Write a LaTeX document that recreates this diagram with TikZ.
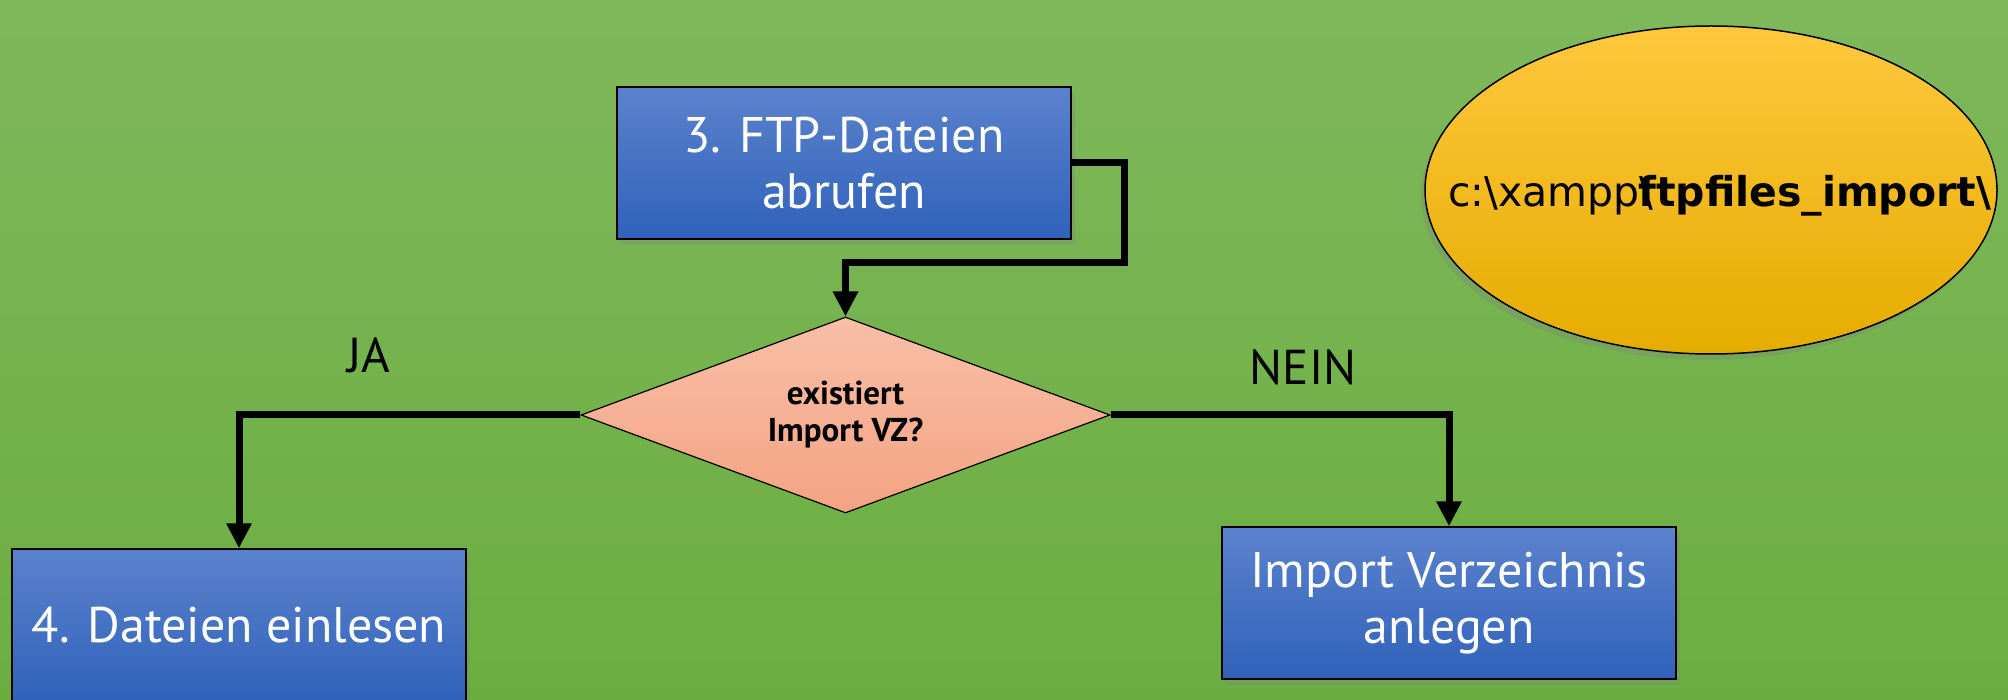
\documentclass[tikz,border=0pt]{standalone}
\usepackage{fontspec}
\setmainfont{PT Sans}
\newfontfamily\pathfont{DejaVu Sans}
\usetikzlibrary{shapes.geometric,arrows.meta,shadows}
\definecolor{bgtop}{HTML}{7FB85B}
\definecolor{bgbot}{HTML}{6BAE40}
\definecolor{boxtop}{HTML}{5B82CD}
\definecolor{boxbot}{HTML}{3062BA}
\definecolor{diatop}{HTML}{F8BFA7}
\definecolor{diabot}{HTML}{F4A382}
\definecolor{elltop}{HTML}{FFC83D}
\definecolor{ellbot}{HTML}{E5AC00}
\tikzset{
  stepbox/.style={rectangle, draw=black, line width=1.5pt, top color=boxtop, bottom color=boxbot,
    minimum width=454pt, minimum height=152pt, inner sep=0pt, align=center, text=white,
    font=\fontsize{50}{56}\selectfont,
    drop shadow={shadow xshift=4pt, shadow yshift=-6pt, opacity=0.3}},
  decision/.style={diamond, draw=black, line width=1.2pt, top color=diatop, bottom color=diabot,
    minimum width=529pt, minimum height=196pt, aspect=2.7, inner sep=0pt, align=center,
    font=\fontsize{33}{37}\selectfont\bfseries},
  conn/.style={draw=black, line width=7pt, line join=miter,
    -{Triangle[width=24pt,length=25pt]}},
  lbl/.style={font=\fontsize{49}{56}\selectfont, text=black, inner sep=0pt}
}
\begin{document}
\begin{tikzpicture}[x=1pt,y=-1pt]
\useasboundingbox (0,0) rectangle (2008,700);
\shade[top color=bgtop, bottom color=bgbot] (0,0) rectangle (2008,700);
% ellipse
\node[ellipse, draw=black, line width=1.5pt, top color=elltop, bottom color=ellbot,
  minimum width=572pt, minimum height=328pt, inner sep=0pt,
  drop shadow={shadow xshift=-4pt, shadow yshift=-6pt, opacity=0.3}] (ell) at (1711,190) {};
\node[anchor=base west, inner sep=0pt, font=\fontsize{41}{50}\selectfont\pathfont] (path1) at (1448,207) {c:\textbackslash xampp\textbackslash};
\node[anchor=base west, inner sep=0pt, font=\fontsize{41}{50}\selectfont\pathfont\bfseries] (path2) at (1638,207) {ftpfiles\_import\textbackslash};
% nodes
\node[stepbox] (b3) at (844,163) {3. FTP-Dateien\\abrufen};
\node[decision] (d) at (845.5,415) {existiert\\Import VZ?};
\node[stepbox] (b4) at (239,625) {4. Dateien einlesen};
\node[stepbox] (b5) at (1449,603) {Import Verzeichnis\\anlegen};
% labels
\node[lbl, anchor=base] (ja) at (369,373) {JA};
\node[lbl, anchor=base] (nein) at (1303,385) {NEIN};
% connectors
\coordinate (k1) at (1124,263);
\draw[conn] (b3.east) -| (k1) -| (d.north);
\draw[conn] (d.west) -| (b4.north);
\draw[conn] (d.east) -| (b5.north);
\end{tikzpicture}
\end{document}
